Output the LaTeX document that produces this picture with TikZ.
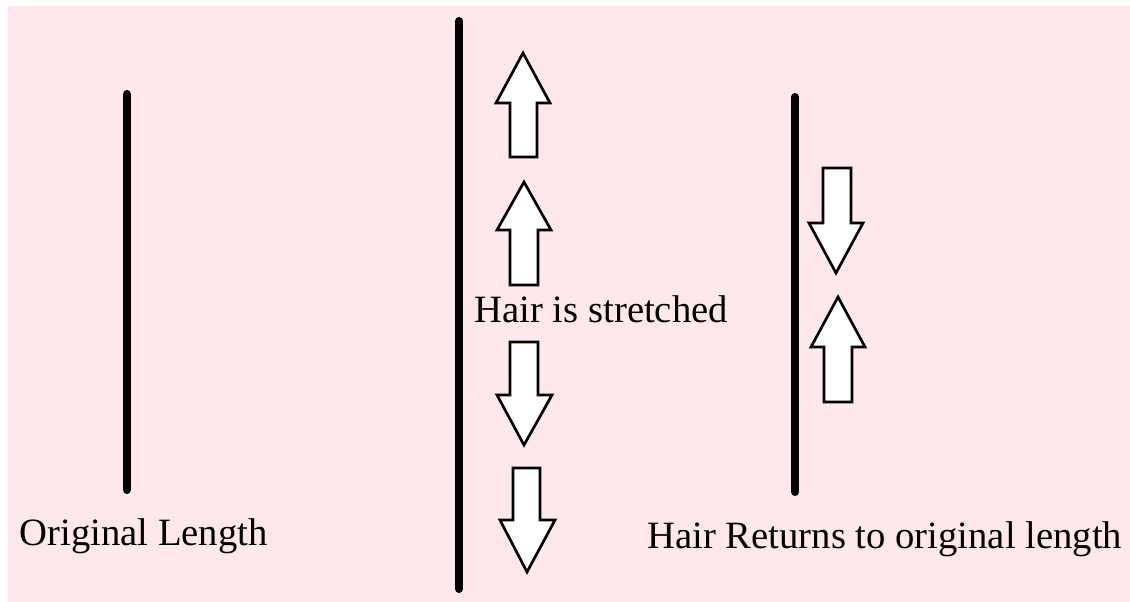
\documentclass[tikz,border=0pt]{standalone}
\usepackage{fontspec}
\setmainfont{Liberation Serif}

\definecolor{pinkbg}{RGB}{255,232,236}
\tikzset{every picture/.style={line width=0.75pt}}
\tikzset{
  hair/.style={line width=6pt, line cap=round, color=black},
  fatarrow/.style={draw=black, fill=white, line width=2pt, line join=miter},
  caption/.style={anchor=base west, inner sep=0pt, font=\fontsize{29}{34}\selectfont}
}

\begin{document}
\begin{tikzpicture}[x=0.75pt,y=0.75pt,yscale=-1,xscale=1]
\useasboundingbox (0,0) rectangle (1130,602);

%Shape: Rectangle (background)
\fill [pinkbg] (8,6) rectangle (1130,602);

%Straight Lines: original hair
\draw [hair] (127,94) -- (127,490);
%Straight Lines: stretched hair
\draw [hair] (459,21) -- (459,589);
%Straight Lines: returned hair
\draw [hair] (795,97) -- (795,492);

%Shape: Up Arrow
\draw [fatarrow] (523,53) -- (550,103) -- (537,103) -- (537,157) -- (510,157) -- (510,103) -- (496,103) -- cycle ;
%Shape: Up Arrow
\draw [fatarrow] (524,182) -- (551,230) -- (538,230) -- (538,285) -- (510,285) -- (510,230) -- (497,230) -- cycle ;
%Shape: Down Arrow
\draw [fatarrow] (510,342) -- (538,342) -- (538,395) -- (552,395) -- (524,445) -- (497,395) -- (510,395) -- cycle ;
%Shape: Down Arrow
\draw [fatarrow] (513,468) -- (540,468) -- (540,520) -- (555,520) -- (527,572) -- (500,520) -- (513,520) -- cycle ;

%Shape: Down Arrow
\draw [fatarrow] (823,168) -- (851,168) -- (851,223) -- (863,223) -- (836,273) -- (809,223) -- (823,223) -- cycle ;
%Shape: Up Arrow
\draw [fatarrow] (838,297) -- (865,347) -- (852,347) -- (852,402) -- (824,402) -- (824,347) -- (811,347) -- cycle ;

% Text Node
\node [caption] (orig) at (19,545) {Original Length};
% Text Node
\node [caption] (stretch) at (474,322) {Hair is stretched};
% Text Node
\node [caption] (returns) at (647,548) {Hair Returns to original length};

\end{tikzpicture}
\end{document}
